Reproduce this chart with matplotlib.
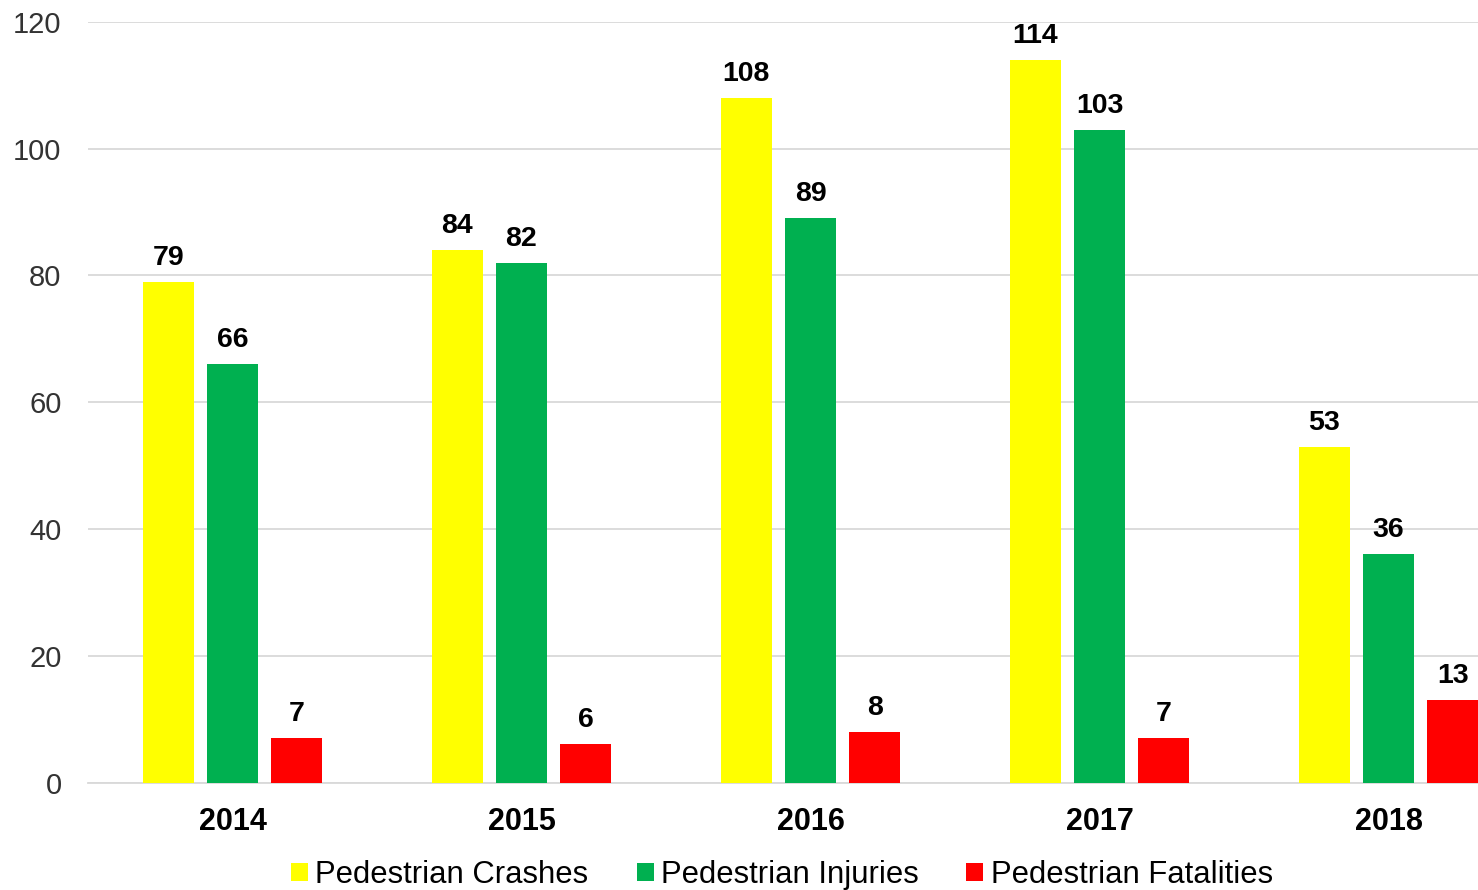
import numpy as np
import matplotlib
matplotlib.use("Agg")
import matplotlib.pyplot as plt

plt.rcParams['font.family'] = ['Liberation Sans', 'DejaVu Sans']

years = ['2014', '2015', '2016', '2017', '2018']
series_names = ['Pedestrian Crashes', 'Pedestrian Injuries', 'Pedestrian Fatalities']
crashes = [79, 84, 108, 114, 53]
injuries = [66, 82, 89, 103, 36]
fatalities = [7, 6, 8, 7, 13]
colors = ['#FFFF00', '#00B050', '#FF0000']

W, H, DPI = 1478, 890, 100
fig = plt.figure(figsize=(W / DPI, H / DPI), dpi=DPI)
# axes runs past the right edge of the figure, the last bar is cut off like in the source
ax = fig.add_axes([88 / W, (H - 782.5) / H, 1445 / W, 760.5 / H])

x = np.arange(len(years))
width = 0.175
offset = 0.222

for i, (vals, name, col) in enumerate(zip([crashes, injuries, fatalities], series_names, colors)):
    pos = x + (i - 1) * offset
    bars = ax.bar(pos, vals, width, color=col, label=name, zorder=3)
    for b, v in zip(bars, vals):
        ax.annotate(str(v), (b.get_x() + b.get_width() / 2, v),
                    xytext=(0, 8), textcoords='offset points',
                    ha='center', va='bottom', fontsize=20.5, fontweight='bold',
                    color='black', annotation_clip=False)

ax.set_xlim(-0.5, 4.5)
ax.set_ylim(0, 120)
ax.set_yticks(range(0, 121, 20))
ax.set_xticks(x)
ax.set_xticklabels(years, fontsize=22, fontweight='bold')
ax.tick_params(axis='y', length=0, pad=19, labelsize=21, labelcolor='#333333')
ax.tick_params(axis='x', length=0, pad=18)

ax.grid(axis='y', color='#d9d9d9', linewidth=1.3, zorder=0)
for s in ['top', 'right', 'left']:
    ax.spines[s].set_visible(False)
ax.spines['bottom'].set_color('#d9d9d9')
ax.spines['bottom'].set_linewidth(1.3)

fig.legend(loc='center', bbox_to_anchor=(782 / W, 1 - 875 / H), ncol=3,
           frameon=False, fontsize=22.3, handlelength=0.55, handleheight=0.55,
           handletextpad=0.23, columnspacing=1.55, borderaxespad=0, borderpad=0)

fig.savefig('out.png', dpi=DPI)
